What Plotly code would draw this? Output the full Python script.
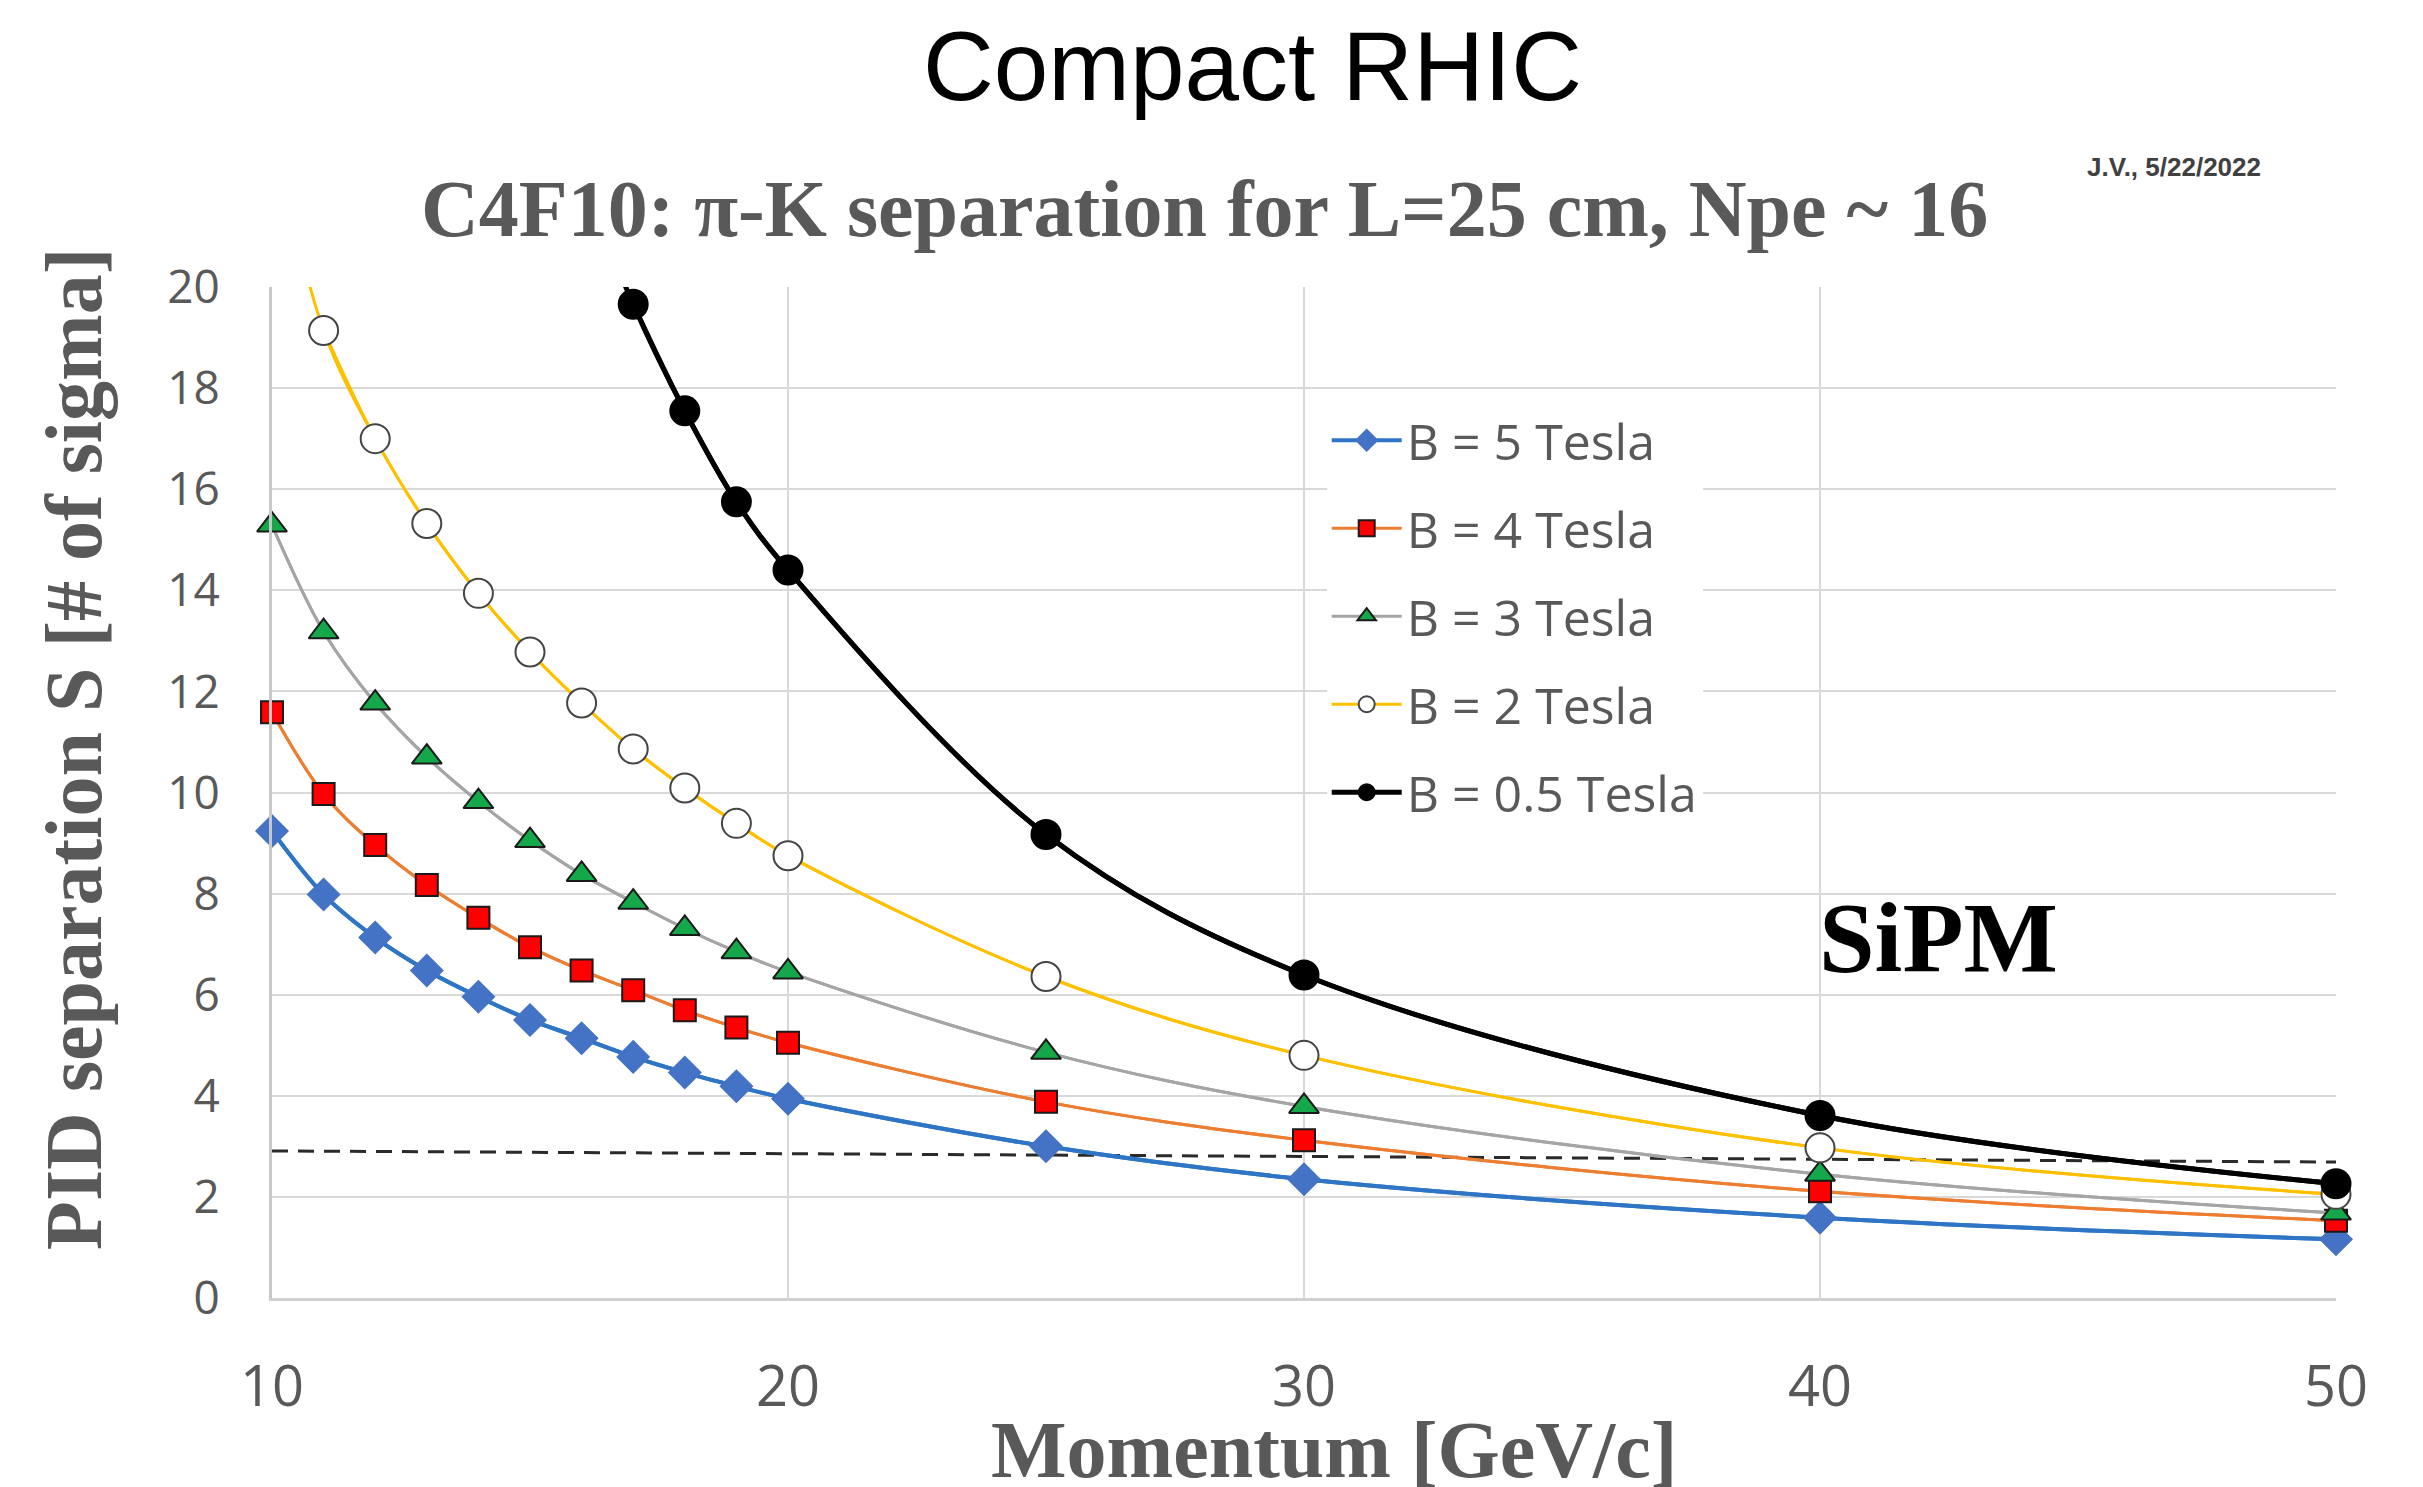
import plotly.graph_objects as go

# ---------------- data ----------------
momentum = [10, 11, 12, 13, 14, 15, 16, 17, 18, 19, 20, 25, 30, 40, 50]

s_b5 = [9.24, 7.98, 7.13, 6.48, 5.96, 5.50, 5.14, 4.77, 4.46, 4.19, 3.94, 3.00, 2.35, 1.59, 1.16]
s_b4 = [11.59, 9.97, 8.96, 8.17, 7.52, 6.94, 6.48, 6.09, 5.69, 5.35, 5.05, 3.88, 3.12, 2.11, 1.53]
s_b3 = [15.29, 13.18, 11.77, 10.70, 9.82, 9.05, 8.38, 7.83, 7.31, 6.85, 6.45, 4.86, 3.79, 2.45, 1.68]
s_b2 = [23.2, 19.14, 17.00, 15.32, 13.94, 12.78, 11.77, 10.86, 10.09, 9.39, 8.75, 6.36, 4.80, 2.97, 2.05]

momentum_b05 = [16, 17, 18, 19, 20, 25, 30, 40, 50]
s_b05 = [22.2, 19.66, 17.55, 15.75, 14.40, 9.17, 6.39, 3.61, 2.26]

threshold_x = [10, 50]
threshold_y = [2.91, 2.69]

x_ticks = [10, 20, 30, 40, 50]
y_ticks = [0, 2, 4, 6, 8, 10, 12, 14, 16, 18, 20]

X_MIN, X_MAX = 10, 50
Y_MIN, Y_MAX = 0, 20

series = [
    dict(name="B = 5 Tesla", x=momentum, y=s_b5, line="#2E75C6", lw=4,
         symbol="diamond", fill="#4472C4", edge="#4472C4", size=24),
    dict(name="B = 4 Tesla", x=momentum, y=s_b4, line="#ED7D31", lw=3,
         symbol="square", fill="#FF0000", edge="#1a1a1a", size=22),
    dict(name="B = 3 Tesla", x=momentum, y=s_b3, line="#A5A5A5", lw=3,
         symbol="triangle-up", fill="#14A84A", edge="#1a1a1a", size=26),
    dict(name="B = 2 Tesla", x=momentum, y=s_b2, line="#FFC000", lw=3,
         symbol="circle", fill="#FFFFFF", edge="#444444", size=29),
    dict(name="B = 0.5 Tesla", x=momentum_b05, y=s_b05, line="#000000", lw=5,
         symbol="circle", fill="#000000", edge="#000000", size=29),
]

fig = go.Figure()

# threshold dashed line
fig.add_trace(go.Scatter(
    x=threshold_x, y=threshold_y, mode="lines",
    line=dict(color="#2a2a2a", width=3, dash="16px,10px"),
    showlegend=False, hoverinfo="skip"))

for i, s in enumerate(series):
    # full smoothed curve (includes points above the visible range, clipped)
    fig.add_trace(go.Scatter(
        x=s["x"], y=s["y"], mode="lines",
        line=dict(color=s["line"], width=s["lw"], shape="spline", smoothing=1.0),
        showlegend=False, hoverinfo="skip", legendgroup=f"g{i}"))
    inx = [xv for xv, yv in zip(s["x"], s["y"]) if yv <= Y_MAX]
    iny = [yv for yv in s["y"] if yv <= Y_MAX]
    fig.add_trace(go.Scatter(
        x=inx, y=iny, mode="lines+markers", name=s["name"],
        legendgroup=f"g{i}",
        line=dict(color=s["line"], width=s["lw"], shape="spline", smoothing=1.0),
        marker=dict(symbol=s["symbol"], size=s["size"], color=s["fill"],
                    line=dict(color=s["edge"], width=2)),
        cliponaxis=False))

GRAY = "#595959"
SERIF = "Liberation Serif"

fig.update_layout(
    width=2423, height=1487,
    margin=dict(l=272, r=87, t=287, b=189),
    paper_bgcolor="white", plot_bgcolor="white",
    showlegend=True,
    legend=dict(
        x=0.511, y=0.887, xanchor="left", yanchor="top",
        bgcolor="white", borderwidth=0,
        font=dict(family="Open Sans", size=50, color=GRAY),
        itemwidth=70, tracegroupgap=20,
    ),
    xaxis=dict(
        range=[X_MIN, X_MAX], tickvals=x_ticks, ticktext=[str(v) for v in x_ticks],
        showgrid=True, gridcolor="#D9D9D9", gridwidth=2,
        showline=True, linecolor="#D0D0D0", linewidth=3,
        zeroline=False, ticks="",
        tickfont=dict(family="Open Sans", size=56, color=GRAY),
        ticklabelstandoff=38,
    ),
    yaxis=dict(
        range=[Y_MIN, Y_MAX], tickvals=y_ticks, ticktext=[str(v) for v in y_ticks],
        showgrid=True, gridcolor="#D9D9D9", gridwidth=2,
        showline=True, linecolor="#C8C8C8", linewidth=3,
        zeroline=False, ticks="",
        tickfont=dict(family="Open Sans", size=46, color=GRAY),
        ticklabelstandoff=40,
    ),
    annotations=[
        dict(text="Compact RHIC", xref="paper", yref="paper", x=0.475, y=1.219,
             xanchor="center", yanchor="middle", showarrow=False,
             font=dict(family="Liberation Sans", size=98, color="black")),
        dict(text="<b>C4F10: π-K separation for L=25 cm, Npe ~ 16</b>",
             xref="paper", yref="paper", x=0.452, y=1.077,
             xanchor="center", yanchor="middle", showarrow=False,
             font=dict(family=SERIF, size=80, color=GRAY)),
        dict(text="<b>J.V., 5/22/2022</b>", xref="paper", yref="paper",
             x=0.9215, y=1.119, xanchor="center", yanchor="middle", showarrow=False,
             font=dict(family="Liberation Sans", size=26, color="#404040")),
        dict(text="<b>PID separation S [# of sigma]</b>", xref="paper", yref="paper",
             x=-0.096, y=0.543, xanchor="center", yanchor="middle", textangle=-90,
             showarrow=False, font=dict(family=SERIF, size=80, color=GRAY)),
        dict(text="<b>Momentum [GeV/c]</b>", xref="paper", yref="paper",
             x=0.5145, y=-0.150, xanchor="center", yanchor="middle",
             showarrow=False, font=dict(family=SERIF, size=80, color=GRAY)),
        dict(text="<b>SiPM</b>", xref="x", yref="y", x=42.3, y=7.13,
             xanchor="center", yanchor="middle", showarrow=False,
             font=dict(family=SERIF, size=100, color="black")),
    ],
)

fig.write_html("out.html")
